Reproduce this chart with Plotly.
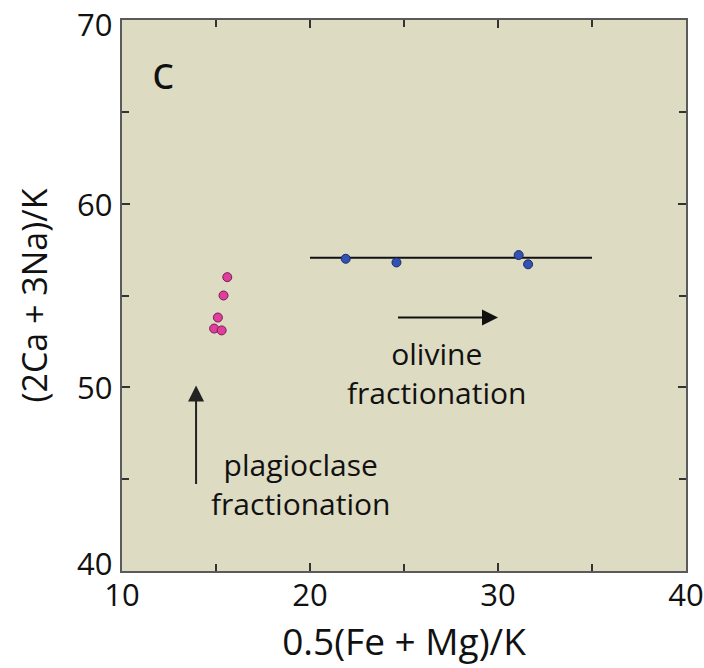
import plotly.graph_objects as go

# Data
olivine_x = [21.9, 24.6, 31.1, 31.6]
olivine_y = [57.0, 56.8, 57.2, 56.7]
plag_x = [15.6, 15.4, 15.1, 14.9, 15.3]
plag_y = [56.0, 55.0, 53.8, 53.2, 53.1]
trend_x = [20, 35]
trend_y = [57.05, 57.05]
x_ticks = [10, 20, 30, 40]
y_ticks = [40, 50, 60, 70]

FONT = "Open Sans"

fig = go.Figure()
fig.add_trace(go.Scatter(x=trend_x, y=trend_y, mode="lines",
                         line=dict(color="#111111", width=2), showlegend=False))
fig.add_trace(go.Scatter(x=plag_x, y=plag_y, mode="markers",
                         marker=dict(size=9, color="#e23c9e",
                                     line=dict(color="#6e2050", width=1)),
                         showlegend=False))
fig.add_trace(go.Scatter(x=olivine_x, y=olivine_y, mode="markers",
                         marker=dict(size=9, color="#3452b4",
                                     line=dict(color="#1c2a66", width=1)),
                         showlegend=False))

ann = [
    dict(x=12.2, y=67.2, text="c", showarrow=False, font=dict(size=46, color="#111", family=FONT)),
    dict(x=26.75, y=50.8, text="olivine<br>fractionation", showarrow=False,
         font=dict(size=30, color="#111", family=FONT)),
    dict(x=19.5, y=44.75, text="plagioclase<br>fractionation", showarrow=False,
         font=dict(size=30, color="#111", family=FONT)),
    # arrows
    dict(x=30.0, y=53.8, ax=24.6, ay=53.8, xref="x", yref="y", axref="x", ayref="y",
         text="", showarrow=True, arrowhead=2, arrowsize=1.6, arrowwidth=2, arrowcolor="#111"),
    dict(x=13.94, y=50.1, ax=13.94, ay=44.65, xref="x", yref="y", axref="x", ayref="y",
         text="", showarrow=True, arrowhead=2, arrowsize=1.6, arrowwidth=2, arrowcolor="#222"),
]

# y tick labels placed at their data values; end labels nudged inward as in the reference
y_lo, y_hi = min(y_ticks), max(y_ticks)
for v in y_ticks:
    shift = 8 if v == y_lo else (-4 if v == y_hi else 0)
    ann.append(dict(x=0, xref="paper", y=v, yref="y", text=str(v), showarrow=False,
                    xanchor="right", yanchor="middle", xshift=-8, yshift=shift,
                    font=dict(size=31, family=FONT, color="#111")))

axis_common = dict(
    showgrid=False, zeroline=False, showline=True, linecolor="#5a5a5a", linewidth=2,
    mirror="ticks", ticks="inside", ticklen=8, tickwidth=1.5, tickcolor="#333",
    tickfont=dict(size=31, family=FONT, color="#111"),
    minor=dict(ticks="inside", dtick=5, ticklen=7, tickwidth=1.5, tickcolor="#333"),
)

fig.update_xaxes(range=[10, 40], tickvals=x_ticks, ticklabelstandoff=-4,
                 title=dict(text="0.5(Fe + Mg)/K", font=dict(size=37, family=FONT, color="#111"), standoff=6),
                 **axis_common)
fig.update_yaxes(range=[40, 70], tickvals=y_ticks, showticklabels=False,
                 title=dict(text="(2Ca + 3Na)/K", font=dict(size=34, family=FONT, color="#111"), standoff=62),
                 **axis_common)

fig.update_layout(
    width=704, height=668,
    margin=dict(l=122, r=18, t=20, b=97, autoexpand=False),
    plot_bgcolor="#dddcc2", paper_bgcolor="white",
    annotations=ann,
)

fig.write_html("out.html")
